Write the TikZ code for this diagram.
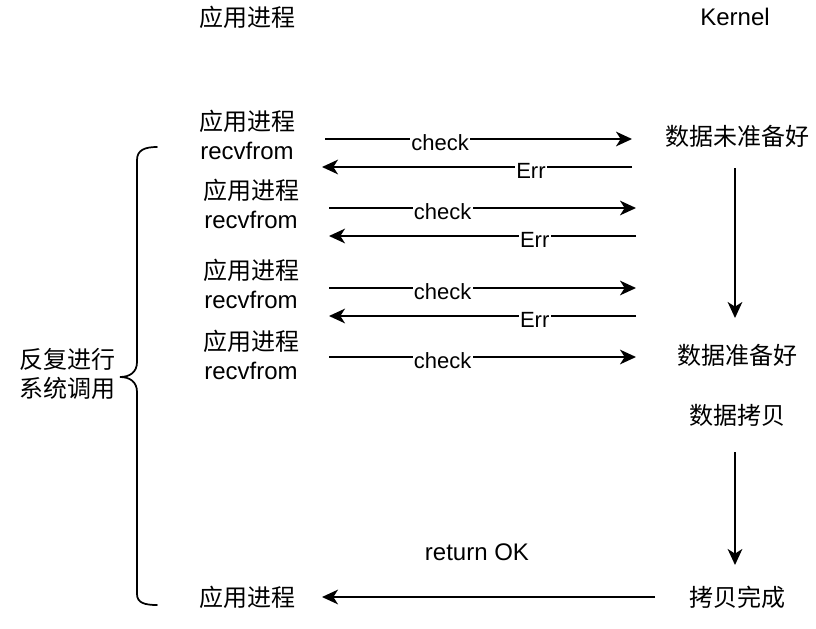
\documentclass[tikz,border=0pt]{standalone}
\usepackage{fontspec}
\setmainfont{Liberation Sans}
\newfontfamily\cjk{Noto Sans CJK SC}
\usetikzlibrary{arrows.meta}
\begin{document}
\begin{tikzpicture}[x=0.75pt,y=-0.75pt,
  txt/.style={inner sep=0pt,align=center,font=\fontsize{18}{21.75}\selectfont},
  lab/.style={fill=white,inner sep=1pt,yshift=-3pt,font=\fontsize{16.5}{18}\selectfont},
  arr/.style={line width=1.3pt,-{Stealth[length=12pt,width=11pt,inset=3.5pt]}}]
\useasboundingbox (0,0) rectangle (816,628);
% titles
\node[txt] (tapp) at (247,17) {\cjk 应用进程};
\node[txt] (tker) at (735,17) {Kernel};
% left process nodes
\node[txt] (p1) at (247,135) {{\cjk 应用进程}\\recvfrom};
\node[txt] (p2) at (251,204) {{\cjk 应用进程}\\recvfrom};
\node[txt] (p3) at (251,284) {{\cjk 应用进程}\\recvfrom};
\node[txt] (p4) at (251,355) {{\cjk 应用进程}\\recvfrom};
\node[txt] (p5) at (247,597) {\cjk 应用进程};
% right kernel nodes
\node[txt] (d1) at (737,136) {\cjk 数据未准备好};
\node[txt] (d2) at (737,355) {\cjk 数据准备好};
\node[txt] (d3) at (737,415) {\cjk 数据拷贝};
\node[txt] (d4) at (737,597) {\cjk 拷贝完成};
\node[txt] (rok) at (477,552) {return OK};
\node[txt] (rep) at (67,374) {\cjk 反复进行\\\cjk 系统调用};
% endpoints
\coordinate (c1s) at (325,139); \coordinate (c1e) at (632,139);
\coordinate (e1s) at (632,167); \coordinate (e1e) at (322,167);
\coordinate (c2s) at (329,208); \coordinate (c2e) at (636,208);
\coordinate (e2s) at (636,236); \coordinate (e2e) at (329,236);
\coordinate (c3s) at (329,288); \coordinate (c3e) at (636,288);
\coordinate (e3s) at (636,316); \coordinate (e3e) at (329,316);
\coordinate (c4s) at (329,357); \coordinate (c4e) at (636,357);
\coordinate (v1s) at (735,168); \coordinate (v1e) at (735,318);
\coordinate (v2s) at (735,452); \coordinate (v2e) at (735,565);
\coordinate (rs) at (655,597); \coordinate (re) at (322,597);
% connectors
\draw[arr] (c1s) -- node[lab,pos=0.375]{check} (c1e);
\draw[arr] (e1s) -- node[lab,pos=0.326]{Err} (e1e);
\draw[arr] (c2s) -- node[lab,pos=0.37]{check} (c2e);
\draw[arr] (e2s) -- node[lab,pos=0.33]{Err} (e2e);
\draw[arr] (c3s) -- node[lab,pos=0.37]{check} (c3e);
\draw[arr] (e3s) -- node[lab,pos=0.33]{Err} (e3e);
\draw[arr] (c4s) -- node[lab,pos=0.37]{check} (c4e);
\draw[arr] (v1s) -- (v1e);
\draw[arr] (v2s) -- (v2e);
\draw[arr] (rs) -- (re);
% brace
\draw[line width=1.3pt,line cap=round]
  (157,147) .. controls (145,147) and (137,150) .. (137,160)
  -- (137,362) .. controls (137,372) and (130,377) .. (120,377)
  .. controls (130,377) and (137,382) .. (137,392)
  -- (137,594) .. controls (137,603) and (145,605) .. (157,605);
\end{tikzpicture}
\end{document}
